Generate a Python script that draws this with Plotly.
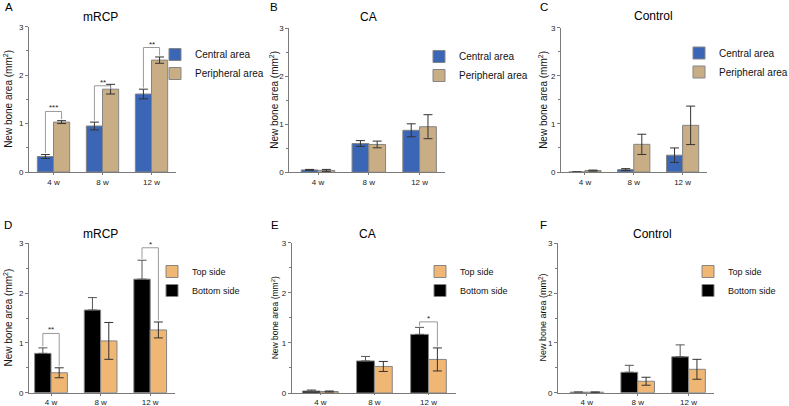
import plotly.graph_objects as go

# ---------------- data ----------------
weeks = ["4 w", "8 w", "12 w"]

a_central = [0.32, 0.95, 1.61]
a_central_err = [0.04, 0.08, 0.10]
a_peripheral = [1.03, 1.71, 2.31]
a_peripheral_err = [0.03, 0.10, 0.065]
a_sig_labels = ["***", "**", "**"]
a_sig_heights = [1.25, 1.78, 2.57]
a_sig_index = [0, 1, 2]

b_central = [0.05, 0.60, 0.875]
b_central_err = [0.01, 0.06, 0.135]
b_peripheral = [0.04, 0.58, 0.95]
b_peripheral_err = [0.02, 0.07, 0.25]

c_central = [0.0, 0.05, 0.35]
c_central_err = [0.0, 0.02, 0.15]
c_peripheral = [0.03, 0.575, 0.97]
c_peripheral_err = [0.01, 0.21, 0.40]

d_bottom = [0.79, 1.66, 2.28]
d_bottom_err = [0.11, 0.25, 0.38]
d_top = [0.40, 1.04, 1.26]
d_top_err = [0.10, 0.37, 0.16]
d_sig_labels = ["**", "*"]
d_sig_heights = [1.19, 2.91]
d_sig_index = [0, 2]

e_bottom = [0.04, 0.64, 1.17]
e_bottom_err = [0.02, 0.09, 0.14]
e_top = [0.03, 0.53, 0.67]
e_top_err = [0.01, 0.10, 0.23]
e_sig_labels = ["*"]
e_sig_heights = [1.42]
e_sig_index = [2]

f_bottom = [0.01, 0.41, 0.72]
f_bottom_err = [0.005, 0.14, 0.24]
f_top = [0.01, 0.23, 0.47]
f_top_err = [0.005, 0.08, 0.20]

y_ticks = [0, 1, 2, 3]

# ---------------- style ----------------
W, H = 789, 406
FONT = "Liberation Sans, Arial, Helvetica, sans-serif"
BLUE = "#3b66b6"
TAN = "#c8ad85"
ORANGE = "#f0b673"
BLACK = "#000000"
AXIS = "#7a7a7a"
BARGAP = 0.34

panels = [
    dict(label="A", title="mRCP", lab=(8.5, 7), tit=(100, 17), ytit=(8.5, 10),
         px=(29, 176), py=(26.7, 172), xstart=-0.5, xtl=2,
         series=[("Central area", a_central, a_central_err, BLUE, False),
                 ("Peripheral area", a_peripheral, a_peripheral_err, TAN, False)],
         sig=(a_sig_index, a_sig_labels, a_sig_heights),
         leg=(155, 40), legfont=10, rev=False),
    dict(label="B", title="CA", lab=(273.5, 7), tit=(368, 17), ytit=(274.5, 10),
         px=(289.3, 445), py=(28.3, 172.3), xstart=-0.565, xtl=2,
         series=[("Central area", b_central, b_central_err, BLUE, False),
                 ("Peripheral area", b_peripheral, b_peripheral_err, TAN, False)],
         sig=None, leg=(419, 42), legfont=10, rev=False),
    dict(label="C", title="Control", lab=(543.5, 7), tit=(653, 16), ytit=(543, 10),
         px=(561, 707), py=(27.7, 172), xstart=-0.49, xtl=2,
         series=[("Central area", c_central, c_central_err, BLUE, False),
                 ("Peripheral area", c_peripheral, c_peripheral_err, TAN, False)],
         sig=None, leg=(679, 38.5), legfont=10, rev=False),
    dict(label="D", title="mRCP", lab=(7.5, 225), tit=(100, 234), ytit=(7.5, 10),
         px=(29, 175), py=(243.3, 392.7), xstart=-0.444, xtl=2,
         series=[("Bottom side", d_bottom, d_bottom_err, BLACK, True),
                 ("Top side", d_top, d_top_err, ORANGE, False)],
         sig=(d_sig_index, d_sig_labels, d_sig_heights),
         leg=(152, 257), legfont=9, rev=True),
    dict(label="E", title="CA", lab=(275, 225), tit=(367, 234), ytit=(275.5, 8.5),
         px=(291.7, 455.5), py=(242.7, 393.0), xstart=-0.53, xtl=1,
         series=[("Bottom side", e_bottom, e_bottom_err, BLACK, True),
                 ("Top side", e_top, e_top_err, ORANGE, False)],
         sig=(e_sig_index, e_sig_labels, e_sig_heights),
         leg=(420, 257), legfont=9, rev=True),
    dict(label="F", title="Control", lab=(543, 225), tit=(652, 234), ytit=(542.5, 9),
         px=(558, 714), py=(243.3, 392.7), xstart=-0.566, xtl=2,
         series=[("Bottom side", f_bottom, f_bottom_err, BLACK, True),
                 ("Top side", f_top, f_top_err, ORANGE, False)],
         sig=None, leg=(688, 257), legfont=9, rev=True),
]

fig = go.Figure()
idx = list(range(len(weeks)))
half = (1 - BARGAP) / 4.0  # offset of each bar centre from category centre
annotations = []
shapes = []
layout_extra = {}

for k, p in enumerate(panels, start=1):
    sx = "" if k == 1 else str(k)
    xa, ya = "x" + sx, "y" + sx
    legname = "legend" + sx
    for name, vals, errs, color, upper_only in p["series"]:
        err = dict(type="data", array=errs, visible=True, color="#333333",
                   thickness=1, width=4.5)
        if upper_only:
            err.update(symmetric=False, arrayminus=[0 for _ in errs], color="#555555")
        fig.add_trace(go.Bar(
            x=idx, y=vals, name=name, xaxis=xa, yaxis=ya, legend=legname,
            marker=dict(color=color, line=dict(color="#858585", width=1)),
            error_y=err, hoverinfo="y+name"))

    x0, x1 = p["px"]
    y0, y1 = p["py"]
    layout_extra["xaxis" + sx] = dict(
        domain=[x0 / W, x1 / W], range=[p["xstart"], len(weeks) - 0.5],
        anchor=ya, showline=True, linecolor=AXIS, linewidth=1,
        ticks="outside", ticklen=p["xtl"], tickcolor=AXIS, tickvals=idx, ticktext=weeks,
        tickfont=dict(size=8, color="#222222", family=FONT),
        showgrid=False, zeroline=False, fixedrange=True, automargin=False)
    layout_extra["yaxis" + sx] = dict(
        domain=[1 - y1 / H, 1 - y0 / H], range=[0, 3],
        anchor=xa, showline=True, linecolor=AXIS, linewidth=1,
        ticks="outside", ticklen=3, tickcolor=AXIS, tickvals=y_ticks,
        tickfont=dict(size=8, color="#222222", family=FONT),
        minor=dict(ticks="outside", ticklen=2, dtick=0.5, tick0=0, tickcolor=AXIS),
        showgrid=False, zeroline=False, fixedrange=True, automargin=False)

    lx, ly = p["leg"]
    layout_extra[legname] = dict(
        x=lx / W, y=1 - ly / H, xanchor="left", yanchor="top",
        font=dict(size=p["legfont"], color="#111111", family=FONT),
        bgcolor="rgba(0,0,0,0)", borderwidth=0, tracegroupgap=0,
        traceorder="reversed" if p["rev"] else "normal")

    # panel letter and title
    annotations.append(dict(text=p["label"], x=p["lab"][0] / W, y=1 - p["lab"][1] / H,
                            xref="paper", yref="paper", showarrow=False,
                            xanchor="center", yanchor="middle",
                            font=dict(size=11.5, color="#000000", family=FONT)))
    annotations.append(dict(text=p["title"], x=p["tit"][0] / W, y=1 - p["tit"][1] / H,
                            xref="paper", yref="paper", showarrow=False,
                            xanchor="center", yanchor="middle",
                            font=dict(size=12, color="#000000", family=FONT)))
    # y-axis title
    annotations.append(dict(text="New bone area (mm<sup>2</sup>)", textangle=-90,
                            x=p["ytit"][0] / W, y=1 - ((y0 + y1) / 2) / H,
                            xref="paper", yref="paper", showarrow=False,
                            xanchor="center", yanchor="middle",
                            font=dict(size=p["ytit"][1], color="#111111", family=FONT)))

    # significance brackets
    if p["sig"] is not None:
        s_idx, s_lab, s_h = p["sig"]
        (_, v1, e1, _, _), (_, v2, e2, _, _) = p["series"]
        for i, lab, h in zip(s_idx, s_lab, s_h):
            xl, xr = i - half, i + half
            lb = v1[i] + e1[i] + 0.03
            rb = v2[i] + e2[i] + 0.03
            if lb > h - 0.03:
                lb = v1[i]
            if rb > h - 0.03:
                rb = v2[i]
            line = dict(color="#9a9a9a", width=1)
            shapes.append(dict(type="line", xref=xa, yref=ya, x0=xl, x1=xr, y0=h, y1=h, line=line))
            shapes.append(dict(type="line", xref=xa, yref=ya, x0=xl, x1=xl, y0=lb, y1=h, line=line))
            shapes.append(dict(type="line", xref=xa, yref=ya, x0=xr, x1=xr, y0=rb, y1=h, line=line))
            annotations.append(dict(text=lab, x=i, y=h, xref=xa, yref=ya, showarrow=False,
                                    xanchor="center", yanchor="bottom", yshift=-3,
                                    font=dict(size=8, color="#222222", family=FONT)))

fig.update_layout(
    width=W, height=H, margin=dict(l=0, r=0, t=0, b=0, autoexpand=False),
    paper_bgcolor="white", plot_bgcolor="white",
    barmode="group", bargap=BARGAP, bargroupgap=0,
    font=dict(family=FONT, color="#111111"),
    annotations=annotations, shapes=shapes,
    **layout_extra)

fig.write_html("out.html", config={"displayModeBar": False},
               post_script="document.body.style.margin='0';document.body.style.overflow='hidden';")
